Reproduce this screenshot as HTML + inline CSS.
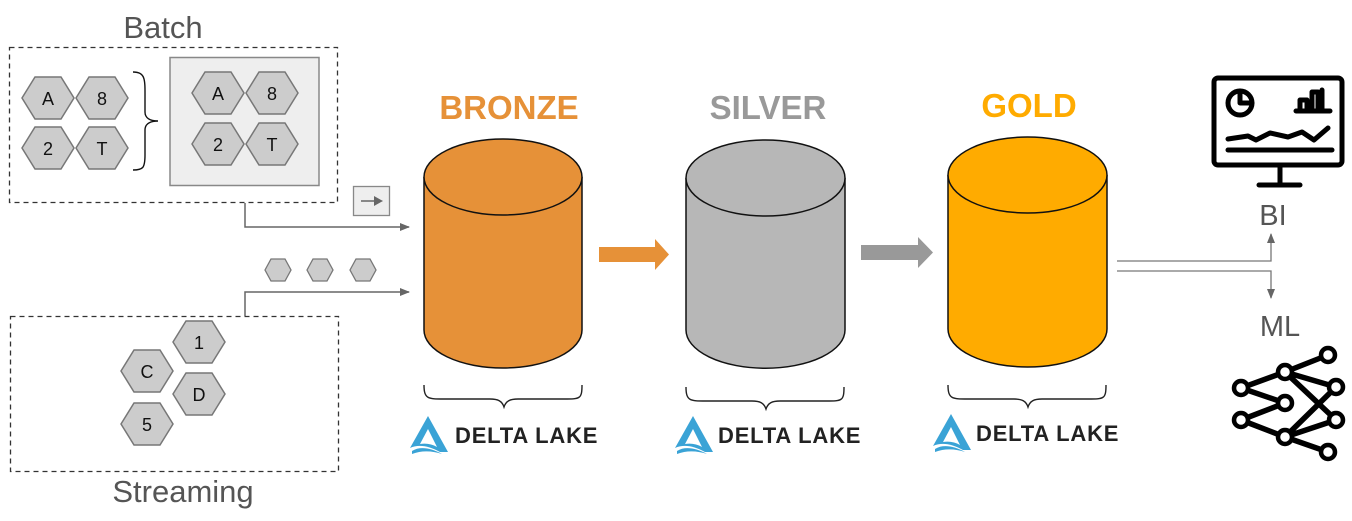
<!DOCTYPE html>
<html><head><meta charset="utf-8"><style>
html,body{margin:0;padding:0;background:#fff;}
svg{display:block;font-family:"Liberation Sans",Arial,sans-serif;}
</style></head><body>
<svg width="1352" height="521" viewBox="0 0 1352 521" xmlns="http://www.w3.org/2000/svg">
<defs>
<marker id="ah" markerWidth="10" markerHeight="8" refX="9" refY="4" orient="auto" markerUnits="userSpaceOnUse"><path d="M0,0 L10,4 L0,8 z" fill="#666"/></marker>
<g id="hex"><polygon points="-26,0 -13,-21 13,-21 26,0 13,21 -13,21" fill="#ccc" stroke="#777" stroke-width="1.5"/></g>
<g id="shex"><polygon points="-13,0 -7,-11 7,-11 13,0 7,11 -7,11" fill="#ccc" stroke="#777" stroke-width="1.3"/></g>
<g id="brace"><path d="M0,0 C0,14 4,14 20,14 L66,14 C74,14 78,16 80,22 C82,16 86,14 94,14 L140,14 C156,14 158,14 158,0" fill="none" stroke="#222" stroke-width="1.4"/></g>
<g id="delta"><path d="M18,0 L0,32 C9,28 19,30 30,36 L38,36 Z" fill="#3aa3d6"/><path d="M18,13 L10,28 C16,27 22,28 27,31 Z" fill="#fff"/><path d="M2,35 C10,30 21,32 32,38 C23,35 12,34 2,38 Z" fill="#3aa3d6"/></g>
</defs>

<!-- Batch -->
<text x="163" y="38" font-size="31" fill="#555" text-anchor="middle">Batch</text>
<rect x="9.5" y="47.5" width="328" height="155" fill="none" stroke="#333" stroke-width="1.3" stroke-dasharray="5,4"/>
<g font-size="18" text-anchor="middle" fill="#111">
<use href="#hex" x="48" y="98"/><text x="48" y="105">A</text>
<use href="#hex" x="102" y="98"/><text x="102" y="105">8</text>
<use href="#hex" x="48" y="148"/><text x="48" y="155">2</text>
<use href="#hex" x="102" y="148"/><text x="102" y="155">T</text>
</g>
<path d="M133,72 C146,72 145,80 145,100 L145,112 C145,118 150,121 158,121 C150,121 145,124 145,130 L145,155 C145,168 143,170 133,170" fill="none" stroke="#111" stroke-width="1.4"/>
<rect x="170" y="57.5" width="149" height="128" fill="#eee" stroke="#888" stroke-width="1.5"/>
<g font-size="18" text-anchor="middle" fill="#111">
<use href="#hex" x="218" y="93"/><text x="218" y="100">A</text>
<use href="#hex" x="272" y="93"/><text x="272" y="100">8</text>
<use href="#hex" x="218" y="144"/><text x="218" y="151">2</text>
<use href="#hex" x="272" y="144"/><text x="272" y="151">T</text>
</g>
<rect x="353.5" y="186.5" width="36" height="29" fill="#eee" stroke="#888" stroke-width="1.3"/>
<path d="M361,201 L378,201" stroke="#666" stroke-width="1.5"/><path d="M374,196 L383,201 L374,206 z" fill="#666"/>
<path d="M245,203 L245,227 L409,227" fill="none" stroke="#666" stroke-width="1.5" marker-end="url(#ah)"/>

<use href="#shex" x="278" y="270"/><use href="#shex" x="320" y="270"/><use href="#shex" x="363" y="270"/>
<path d="M245,316 L245,292 L409,292" fill="none" stroke="#666" stroke-width="1.5" marker-end="url(#ah)"/>

<!-- Streaming -->
<rect x="10.5" y="316.5" width="328" height="155" fill="none" stroke="#333" stroke-width="1.3" stroke-dasharray="5,4"/>
<g font-size="18" text-anchor="middle" fill="#111">
<use href="#hex" x="199" y="342"/><text x="199" y="349">1</text>
<use href="#hex" x="147" y="371"/><text x="147" y="378">C</text>
<use href="#hex" x="199" y="394"/><text x="199" y="401">D</text>
<use href="#hex" x="147" y="424"/><text x="147" y="431">5</text>
</g>
<text x="183" y="502" font-size="31" fill="#555" text-anchor="middle">Streaming</text>

<!-- Titles -->
<g font-size="33" font-weight="bold" text-anchor="middle">
<text x="509" y="119" fill="#e69138">BRONZE</text>
<text x="768" y="119" fill="#999">SILVER</text>
<text x="1029" y="117" fill="#ffab00">GOLD</text>
</g>

<!-- Cylinders -->
<g stroke="#111" stroke-width="1.5">
<path d="M424,177 L424,330 A79,38 0 0 0 582,330 L582,177" fill="#e69138"/>
<ellipse cx="503" cy="177" rx="79" ry="38" fill="#e69138"/>
<path d="M686,178 L686,330 A79,38 0 0 0 845,330 L845,178" fill="#b7b7b7"/>
<ellipse cx="765.5" cy="178" rx="79.5" ry="38" fill="#b7b7b7"/>
<path d="M948,175 L948,329 A79.5,38 0 0 0 1107,329 L1107,175" fill="#ffab00"/>
<ellipse cx="1027.5" cy="175" rx="79.5" ry="38" fill="#ffab00"/>
</g>

<!-- arrows between -->
<path d="M599,247 L655,247 L655,239 L669,254.5 L655,270 L655,262 L599,262 z" fill="#e69138"/>
<path d="M861,245 L918,245 L918,237 L933,252.5 L918,268 L918,260 L861,260 z" fill="#999"/>

<!-- braces & delta -->
<use href="#brace" x="424" y="385"/>
<use href="#brace" x="686" y="387"/>
<use href="#brace" x="948" y="385"/>
<g font-size="22" font-weight="bold" fill="#222" letter-spacing="0.8">
<use href="#delta" x="410" y="416"/><text x="455" y="443">DELTA LAKE</text>
<use href="#delta" x="675" y="416"/><text x="718" y="443">DELTA LAKE</text>
<use href="#delta" x="933" y="414"/><text x="976" y="441">DELTA LAKE</text>
</g>

<!-- right connectors -->
<path d="M1117,261 L1271,261 L1271,234" fill="none" stroke="#777" stroke-width="1.3" marker-end="url(#ah)"/>
<path d="M1117,271 L1271,271 L1271,298" fill="none" stroke="#777" stroke-width="1.3" marker-end="url(#ah)"/>
<text x="1273" y="225" font-size="29" fill="#555" text-anchor="middle">BI</text>
<text x="1280" y="336" font-size="29" fill="#555" text-anchor="middle">ML</text>

<!-- monitor -->
<g fill="none" stroke="#000" stroke-width="5" stroke-linecap="round" stroke-linejoin="round">
<rect x="1214" y="78" width="128" height="87" rx="4"/>
<path d="M1280,166 L1280,184 M1259,185 L1300,185"/>
<circle cx="1240" cy="103" r="12"/><path d="M1240,91 L1240,103 L1252,103"/>
<path d="M1296,111 L1330,111 M1300,110 L1300,100 L1307,100 L1307,110 M1312,110 L1312,92 L1318,92 L1318,110 M1322,110 L1322,90"/>
<path d="M1228,139 L1248,136 L1256,140 L1270,133 L1288,137 L1302,132 L1314,140 L1328,128"/>
<path d="M1228,150 L1332,150"/>
</g>

<!-- network -->
<g stroke="#000" stroke-width="5.5" fill="none">
<path d="M1285,372 L1328,355 M1241,388 L1285,372 M1241,388 L1285,403 M1241,420 L1285,403 M1241,420 L1285,437 M1285,437 L1328,452 M1285,372 L1336,420 M1285,437 L1336,387 M1285,372 L1336,387 M1285,437 L1336,420"/>
</g>
<g fill="#fff" stroke="#000" stroke-width="4.5">
<circle cx="1241" cy="388" r="7"/><circle cx="1241" cy="420" r="7"/>
<circle cx="1285" cy="372" r="7"/><circle cx="1285" cy="403" r="7"/><circle cx="1285" cy="437" r="7"/>
<circle cx="1328" cy="355" r="7"/><circle cx="1336" cy="387" r="7"/><circle cx="1336" cy="420" r="7"/><circle cx="1328" cy="452" r="7"/>
</g>
</svg>
</body></html>
